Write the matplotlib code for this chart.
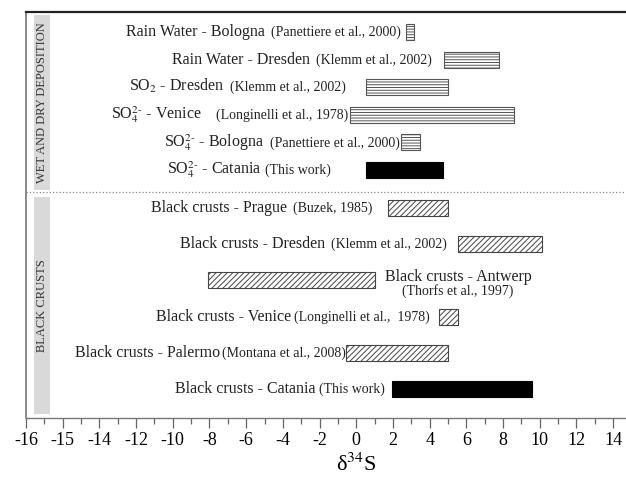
import numpy as np
import matplotlib
matplotlib.use('Agg')
import matplotlib.pyplot as plt
from matplotlib.patches import Rectangle
from matplotlib.transforms import blended_transform_factory

plt.rcParams['font.family'] = ['Liberation Serif', 'DejaVu Serif']
plt.rcParams['mathtext.fontset'] = 'stix'
plt.rcParams['hatch.linewidth'] = 0.7

# delta-34S ranges, top group = wet and dry deposition, bottom group = black crusts
sites = ['Rain Water - Bologna', 'Rain Water - Dresden', 'SO$_2$ - Dresden',
         r'SO$_4^{2\text{-}}$ - Venice', r'SO$_4^{2\text{-}}$ - Bologna',
         r'SO$_4^{2\text{-}}$ - Catania',
         'Black crusts - Prague', 'Black crusts - Dresden', 'Black crusts - Antwerp',
         'Black crusts - Venice', 'Black crusts - Palermo', 'Black crusts - Catania']
refs = ['(Panettiere et al., 2000)', '(Klemm et al., 2002)', '(Klemm et al., 2002)',
        '(Longinelli et al., 1978)', '(Panettiere et al., 2000)', '(This work)',
        '(Buzek, 1985)', '(Klemm et al., 2002)', '(Thorfs et al., 1997)',
        '(Longinelli et al.,  1978)', '(Montana et al., 2008)', '(This work)']
d34s_min = [2.7, 4.8, 0.55, -0.35, 2.45, 0.55, 1.75, 5.55, -8.1, 4.5, -0.55, 1.95]
d34s_max = [3.15, 7.8, 5.0, 8.6, 3.5, 4.75, 5.0, 10.1, 1.0, 5.55, 5.0, 9.6]
groups = ['WET AND DRY DEPOSITION', 'BLACK CRUSTS']

tick_pos = np.arange(-18, 15, 2)
tick_text = ['-16', '-15', '-14', '-12', '-10', '-8', '-6', '-4', '-2',
             '0', '2', '4', '6', '8', '10', '12', '14']

# layout (y runs in screen pixels, downwards)
row_y = np.r_[32 + 27.6 * np.arange(6), 208 + 36.2 * np.arange(6)]
label_gap = [5, 12, 20, 2, 1, 35, 16, 11, 0, 9, 0, 7]
ref_gap = [6, 6, 6, 14, 6, 4, 6, 6, 0, 3, 2, 4]

fig = plt.figure(figsize=(6.26, 4.88), dpi=100)
ax = fig.add_axes([26 / 626, 1 - 418 / 488, 600 / 626, 406 / 488])
ax.set_xlim(-18, 14.7)
ax.set_ylim(418, 12)

lo = np.array(d34s_min)
hi = np.array(d34s_max)
for i in range(len(sites)):
    if refs[i] == '(This work)':
        kw = dict(facecolor='black', edgecolor='black', linewidth=0.8)
    elif i < 6:
        kw = dict(facecolor='white', edgecolor='#555555', hatch='------', linewidth=0.8)
    else:
        kw = dict(facecolor='white', edgecolor='#444444', hatch='//////', linewidth=0.8)
    ax.barh(row_y[i], hi[i] - lo[i], left=lo[i], height=16, **kw)

    if i == 8:
        # label sits to the right of the bar
        t = ax.annotate(sites[i], xy=(hi[i], row_y[i] - 3), xytext=(10, 0),
                        textcoords='offset pixels', ha='left', va='center',
                        fontsize=11.5, color='#222222')
        ax.annotate(refs[i], xy=(0.5, 0), xycoords=t, xytext=(0, 1),
                    textcoords='offset pixels', ha='center', va='top',
                    fontsize=10, color='#222222')
        continue
    c = ax.annotate(refs[i], xy=(lo[i], row_y[i] + 4), xytext=(-label_gap[i], 0),
                    textcoords='offset pixels', ha='right', va='baseline',
                    fontsize=10, color='#222222')
    ax.annotate(sites[i], xy=(0, row_y[i] + 4), xycoords=(c, 'data'),
                xytext=(-ref_gap[i], 0), textcoords='offset pixels',
                ha='right', va='baseline', fontsize=11.5, color='#222222')

# group bands on the left
bx0, bx1 = -17.56, -16.68
for (y0, y1), name in zip([(15, 190), (197, 414)], groups):
    ax.add_patch(Rectangle((bx0, y0), bx1 - bx0, y1 - y0, facecolor='#d9d9d9',
                           edgecolor='none', zorder=0))
    ax.text((bx0 + bx1) / 2, (y0 + y1) / 2, name, rotation=90, ha='center',
            va='center', fontsize=9, color='#333333')

ax.axhline(192, color='#888888', linestyle=':', linewidth=0.9)

ax.set_yticks([])
ax.set_xticks(tick_pos)
ax.set_xticklabels(tick_text)
ax.set_xticks(np.arange(-17, 15, 2), minor=True)
ax.tick_params(axis='x', which='major', length=7, width=0.9, color='#666666',
               labelsize=13, pad=3)
ax.tick_params(axis='x', which='minor', length=4, width=0.9, color='#666666')

ax.spines['right'].set_visible(False)
ax.spines['top'].set_linewidth(1.6)
ax.spines['top'].set_color('#222222')
ax.spines['left'].set_color('#777777')
ax.spines['left'].set_linewidth(1.2)
ax.spines['bottom'].set_color('#777777')
ax.spines['bottom'].set_linewidth(1.0)

trans = blended_transform_factory(ax.transData, ax.transAxes)
ax.text(0, -0.115, 'δ$^{34}$S', transform=trans, ha='center', va='center',
        fontsize=16)

fig.savefig('out.png', dpi=100)
